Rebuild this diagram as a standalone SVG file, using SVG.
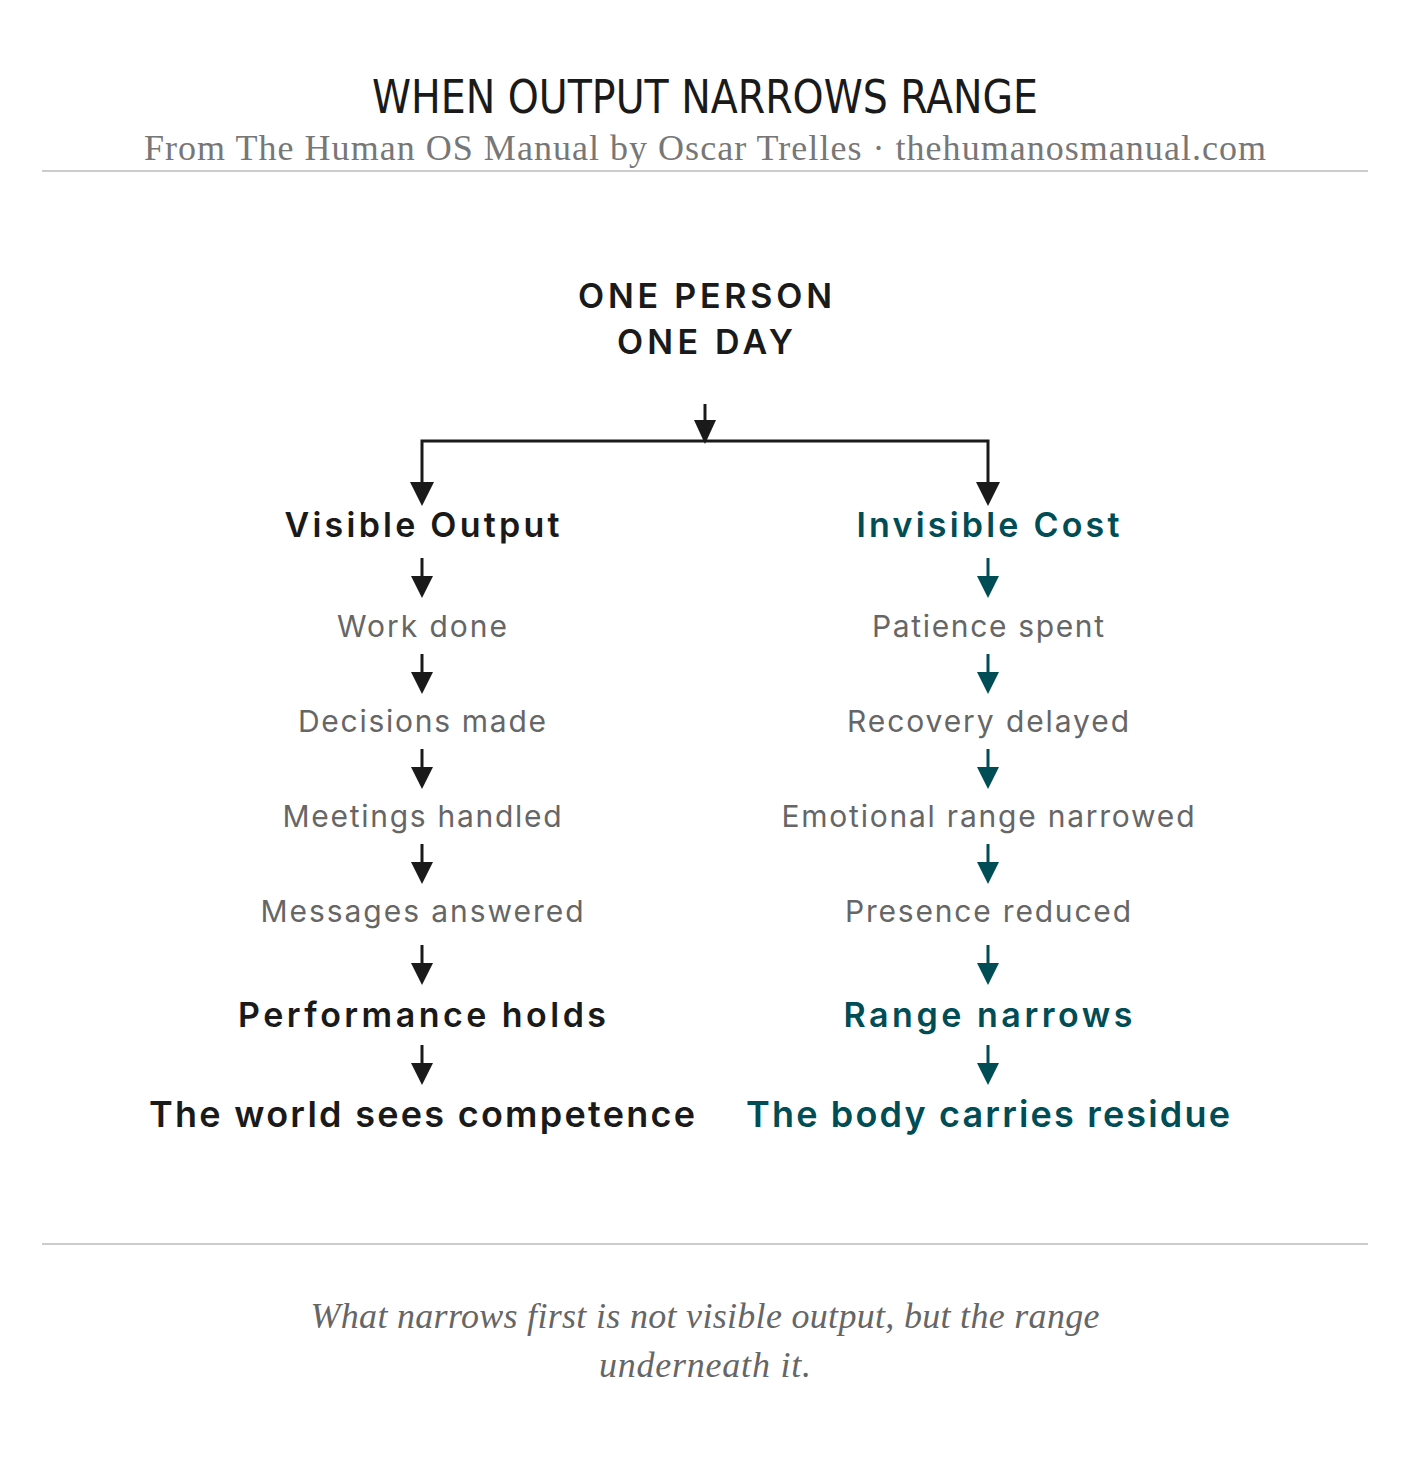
<svg xmlns="http://www.w3.org/2000/svg" width="1410" height="1459" viewBox="0 0 1410 1459">
<style>
.t{font-family:"Liberation Sans Narrow","DejaVu Sans Condensed",sans-serif;font-size:46px;fill:#1a1a1a;text-anchor:middle}
.sub{font-family:"Liberation Serif",serif;font-size:36px;fill:#777;text-anchor:middle}
.q{font-family:"Liberation Serif",serif;font-style:italic;font-size:36px;fill:#666;text-anchor:middle}
.h{font-family:Inter,"Noto Sans",sans-serif;font-weight:600;font-size:34px;text-anchor:middle;fill:#1a1a1a}
.hb{font-size:36px}
.g{font-family:Inter,"Noto Sans",sans-serif;font-size:30px;fill:#666;text-anchor:middle}
.tl{fill:#004d55}
.cl{stroke:#1a1a1a;stroke-width:3;fill:none}
.ct{stroke:#004d55}
</style>
<rect width="1410" height="1459" fill="#fff"/>
<text class="t" x="705" y="113" textLength="666" lengthAdjust="spacingAndGlyphs">WHEN OUTPUT NARROWS RANGE</text>
<text class="sub" x="705" y="160" textLength="1122">From The Human OS Manual by Oscar Trelles · thehumanosmanual.com</text>
<line x1="42" y1="171" x2="1368" y2="171" stroke="#bbb" stroke-width="1.5"/>
<g id="root"><text class="h" x="705" y="308" textLength="254">ONE PERSON</text><text class="h" x="705" y="354" textLength="176">ONE DAY</text></g>
<g id="connectors">
<line class="cl" x1="705" y1="404" x2="705" y2="420"/><path d="M694 420 L716 420 L705 444 Z" fill="#1a1a1a"/>
<polyline class="cl" points="422,484 422,441 988,441 988,484"/>
<path d="M410 482 L434 482 L422 506 Z M976 482 L1000 482 L988 506 Z" fill="#1a1a1a"/>
<g id="la">
<path d="M422 558V578M422 654V674M422 749V769M422 844V864M422 945V965M422 1045V1065" class="cl"/>
<path d="M411 576h22l-11 22zM411 672h22l-11 22zM411 767h22l-11 22zM411 862h22l-11 22zM411 963h22l-11 22zM411 1063h22l-11 22z" fill="#1a1a1a"/>
</g>
<g id="ra">
<path d="M988 558V578M988 654V674M988 749V769M988 844V864M988 945V965M988 1045V1065" class="cl ct"/>
<path d="M977 576h22l-11 22zM977 672h22l-11 22zM977 767h22l-11 22zM977 862h22l-11 22zM977 963h22l-11 22zM977 1063h22l-11 22z" fill="#004d55"/>
</g>
</g>
<g id="left">
<g id="vo"><text class="h" x="422" y="537" textLength="275">Visible Output</text></g>
<g id="l1"><text class="g" x="422" y="637" textLength="170">Work done</text></g>
<g id="l2"><text class="g" x="422" y="732" textLength="248">Decisions made</text></g>
<g id="l3"><text class="g" x="422" y="827" textLength="279">Meetings handled</text></g>
<g id="l4"><text class="g" x="422" y="922" textLength="323">Messages answered</text></g>
<g id="l5"><text class="h" x="422" y="1027" textLength="368">Performance holds</text></g>
<g id="l6"><text class="h hb" x="422" y="1127" textLength="546">The world sees competence</text></g>
</g>
<g id="right">
<g id="ic"><text class="h tl" x="988" y="537" textLength="263">Invisible Cost</text></g>
<g id="r1"><text class="g" x="988" y="637" textLength="232">Patience spent</text></g>
<g id="r2"><text class="g" x="988" y="732" textLength="282">Recovery delayed</text></g>
<g id="r3"><text class="g" x="988" y="827" textLength="413">Emotional range narrowed</text></g>
<g id="r4"><text class="g" x="988" y="922" textLength="286">Presence reduced</text></g>
<g id="r5"><text class="h tl" x="988" y="1027" textLength="289">Range narrows</text></g>
<g id="r6"><text class="h hb tl" x="988" y="1127" textLength="484">The body carries residue</text></g>
</g>
<line x1="42" y1="1244" x2="1368" y2="1244" stroke="#bbb" stroke-width="1.5"/>
<text class="q" x="705" y="1328" textLength="789">What narrows first is not visible output, but the range</text>
<text class="q" x="705" y="1377" textLength="212">underneath it.</text>
</svg>
